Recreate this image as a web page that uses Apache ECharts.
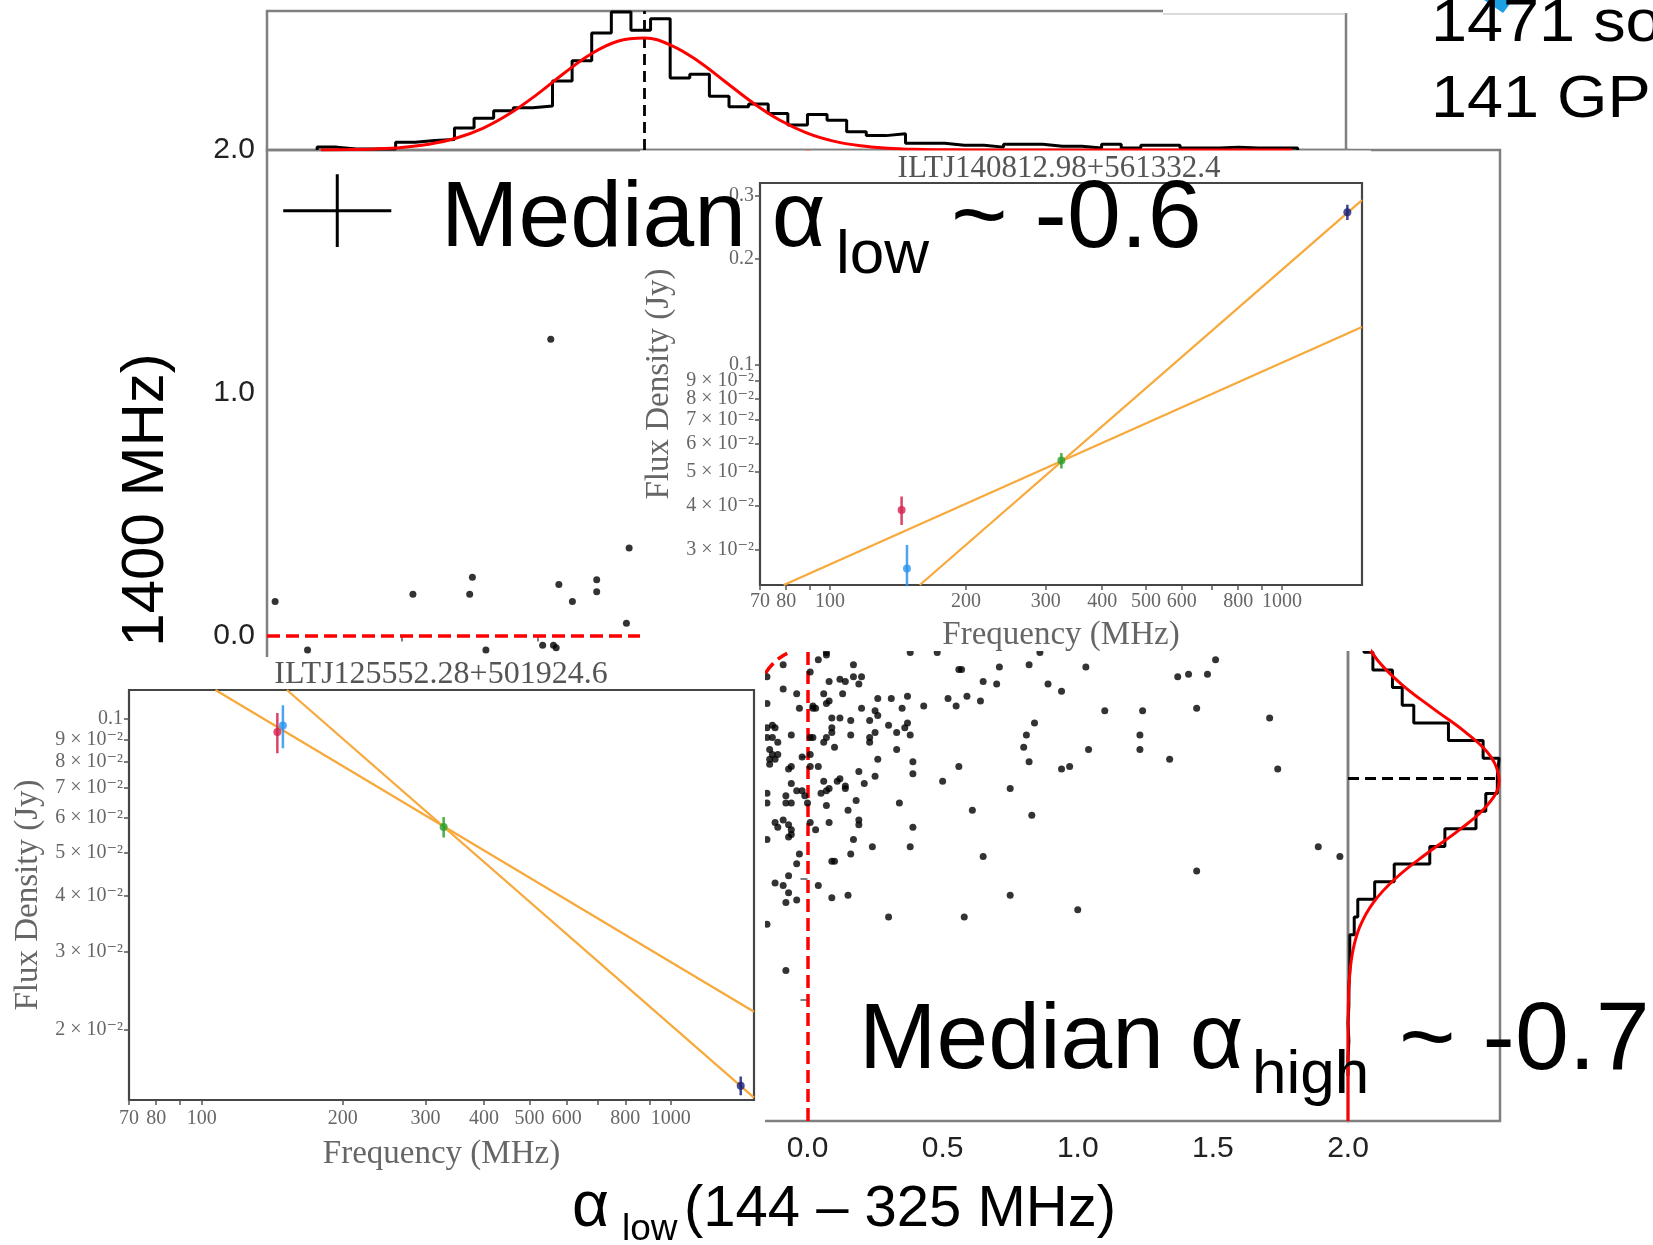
<!DOCTYPE html>
<html><head><meta charset="utf-8">
<script src="https://cdn.jsdelivr.net/npm/echarts@6/dist/echarts.min.js"></script>
<style>html,body{margin:0;padding:0;background:#fff}#c{width:1653px;height:1245px}</style>
</head><body><div id="c"></div>
<script>
// ---------------- data ----------------
const binStart = -1.814, binWidth = 0.0727;           // 50 bins in alpha
const lowHistCounts = [3,1,1,1,8,10,11,23,33,41,44,46,72,93,122,144,125,137,75,79,56,45,48,38,26,37,31,19,15,17,7,7,5,5,3,6,6,4,4,2,6,2,5,5,2,2,3,2,2,2];
const highHistCounts = [0,1,0,1,1,2,2,2,7,11,30,52,92,109,144,155,168,170,152,113,74,61,50,28,18,12,8,5,4,3,2,2,1,1,1,1,0,1,0,0,0,0,1,0,0,0,0,0,0,0];
const lowFitAlpha  = [-1.8,-1.7,-1.6,-1.5,-1.4,-1.3,-1.2,-1.1,-1.0,-0.9,-0.8,-0.7,-0.6,-0.5,-0.4,-0.3,-0.2,-0.1,0.0,0.1,0.2,0.3,0.4,0.5,0.6,0.8,1.0,1.4,1.8];
const lowFitCounts = [0.1,0.4,1.1,2.7,6.0,12.2,22.6,38.0,57.8,79.8,99.9,113.4,116.8,109.0,92.4,71.0,49.5,31.3,17.9,9.3,4.4,1.9,0.7,0.3,0.1,0,0,0,0];
const highFitAlpha  = [-2.0,-1.8,-1.6,-1.5,-1.4,-1.3,-1.2,-1.1,-1.0,-0.9,-0.8,-0.7,-0.6,-0.5,-0.4,-0.3,-0.2,-0.1,0.0,0.1,0.2,0.3,0.4,0.6];
const highFitCounts = [0,0,0.15,0.6,1.9,5.4,13.2,28.5,53.7,87.9,125.6,156.5,170,160.8,132.7,95.5,59.9,32.8,15.6,6.5,2.4,0.7,0.2,0];
const medianLow = -0.6, medianHigh = -0.59;
const medianErr = [-1.74, 1.75, 0.20, 0.15];   // x, y, xerr, yerr
const redCurveLow  = [-0.156,-0.119,-0.075];
const redCurveHigh = [-0.156,-0.106,-0.074];
const scatterPoints = [
[-0.95,1.22],[-0.66,0.36],[-1.97,0.14],[-1.46,0.17],[-1.25,0.17],[-1.24,0.24],[-0.92,0.21],[-0.87,0.14],[-0.78,0.18],[-0.78,0.23],[-0.67,0.05],[-1.85,-0.06],[-1.19,-0.06],[-0.98,-0.04],[-0.94,-0.04],[-0.93,-0.05],
[-0.09,-0.12],[0.04,-0.10],[0.07,-0.08],[0.17,-0.12],[0.01,-0.15],[-0.15,-0.17],
[0.12,-0.18],[0.14,-0.19],[0.17,-0.17],[0.20,-0.17],[0.08,-0.19],[0.19,-0.20],
[-0.09,-0.22],[-0.04,-0.24],[0.06,-0.24],[0.13,-0.24],[0.08,-0.27],[0.07,-0.28],
[0.02,-0.29],[0.02,-0.30],[0.03,-0.30],[-0.03,-0.30],[-0.15,-0.28],[0.20,-0.30],
[0.26,-0.26],[0.31,-0.26],[0.37,-0.25],[0.35,-0.30],[0.43,-0.29],[0.25,-0.31],[0.26,-0.33],
[0.09,-0.34],[0.12,-0.34],[0.16,-0.35],[0.23,-0.35],[0.30,-0.37],[0.33,-0.40],
[0.37,-0.36],[0.36,-0.38],[0.38,-0.41],[0.25,-0.40],[0.23,-0.42],[0.23,-0.44],
[0.16,-0.41],[0.09,-0.38],[0.09,-0.40],[0.07,-0.42],[0.06,-0.44],[0.10,-0.46],
[-0.06,-0.41],[0.01,-0.42],[0.02,-0.42],
[-0.13,-0.37],[-0.12,-0.38],[-0.15,-0.38],
[-0.15,-0.42],[-0.13,-0.42],[-0.11,-0.44],
[-0.14,-0.47],[-0.13,-0.49],[-0.11,-0.49],[-0.14,-0.51],[-0.12,-0.51],[-0.14,-0.53],
[-0.02,-0.50],[0.01,-0.49],[0.01,-0.54],[0.04,-0.54],[-0.06,-0.54],[-0.07,-0.55],
[0.26,-0.51],[0.33,-0.47],[0.39,-0.52],[0.39,-0.57],[0.19,-0.56],[0.25,-0.58],[0.21,-0.61],
[0.12,-0.59],[0.11,-0.60],[0.14,-0.62],[0.14,-0.63],
[0.06,-0.60],[0.08,-0.63],[0.07,-0.64],[0.05,-0.65],
[0.07,-0.70],[0.18,-0.68],[0.34,-0.69],
[-0.06,-0.61],[-0.04,-0.64],[-0.02,-0.64],[-0.01,-0.66],
[-0.08,-0.66],[-0.08,-0.69],[-0.06,-0.69],[-0.15,-0.65],[-0.15,-0.69],[0.00,-0.69],
[0.15,-0.72],[0.08,-0.77],[0.19,-0.76],[0.19,-0.78],[0.01,-0.77],[0.03,-0.80],
[-0.12,-0.77],[-0.11,-0.79],[-0.09,-0.76],[-0.07,-0.78],[-0.06,-0.80],[-0.06,-0.82],[-0.07,-0.83],
[-0.15,-0.84],[0.39,-0.79],[0.17,-0.84],[0.24,-0.87],[0.38,-0.87],
[-0.03,-0.90],[-0.04,-0.94],[0.16,-0.90],[0.09,-0.93],[0.10,-0.93],
[-0.07,-0.99],[-0.12,-1.02],[-0.09,-1.03],[-0.07,-1.06],[-0.08,-1.10],[-0.04,-1.09],
[0.04,-1.03],[0.09,-1.08],[0.15,-1.07],[0.30,-1.16],[0.58,-1.16],[-0.08,-1.38],[-0.15,-1.19],
[0.56,-0.14],[0.57,-0.14],[0.71,-0.13],[0.82,-0.12],[1.03,-0.13],
[0.65,-0.19],[0.70,-0.20],[0.89,-0.20],[0.94,-0.23],
[0.52,-0.26],[0.55,-0.29],[0.59,-0.25],[0.64,-0.27],
[0.84,-0.36],[0.81,-0.41],[0.80,-0.46],[1.04,-0.47],[0.82,-0.52],[0.56,-0.54],
[0.94,-0.55],[0.97,-0.54],[0.50,-0.60],[0.75,-0.63],[0.61,-0.72],[0.83,-0.74],
[0.65,-0.91],[0.75,-1.07],[1.00,-1.13],
[0.07,-0.07],[0.38,-0.07],[0.48,-0.07],[0.86,-0.07],
[1.51,-0.10],[1.37,-0.17],[1.41,-0.16],[1.48,-0.16],[1.10,-0.31],[1.24,-0.31],[1.44,-0.30],[1.23,-0.41],[1.23,-0.47],[1.34,-0.51],[1.71,-0.34],[1.74,-0.55],[1.89,-0.87],[1.97,-0.91],[1.44,-0.97]
];
// inset A (upper)
const srcA = 'ILTJ140812.98+561332.4';
const freqA = [144, 148, 325, 1395];
const fluxA = [0.0389, 0.0266, 0.0537, 0.270];
const errA  = [0.0036, 0.0044, 0.0027, 0.0135];
const fitA1 = [[79, 0.0239], [1503, 0.128]];
const fitA2 = [[158, 0.0239], [1503, 0.292]];
const freqRangeA = [70, 1503], fluxRangeA = [0.0239, 0.3264];
// inset B (lower)
const srcB = 'ILTJ125552.28+501924.6';
const freqB = [145, 149, 328, 1410];
const fluxB = [0.0935, 0.0967, 0.0572, 0.0150];
const errB  = [0.0097, 0.0107, 0.0030, 0.00073];
const fitB1 = [[107, 0.1162], [1505, 0.0220]];
const fitB2 = [[152, 0.1162], [1505, 0.0141]];
const freqRangeB = [70, 1505], fluxRangeB = [0.01393, 0.1162];
const pointColors = ['#d6204e', '#2b95f0', '#2ca02c', '#1b237a'];
const freqTickLabels = [70,80,100,200,300,400,500,600,800,1000];
const freqMinorTicks = [90,700,900];
const fluxTicksA = [0.03,0.04,0.05,0.06,0.07,0.08,0.09,0.1,0.2,0.3];
const fluxTicksB = [0.02,0.03,0.04,0.05,0.06,0.07,0.08,0.09,0.1];

// ---------------- helpers ----------------
const sans = '"Liberation Sans", Arial, Helvetica, sans-serif';
const serif = '"Liberation Serif", "DejaVu Serif", serif';
const L = Math.log10;

function stepOutline(counts, horizontal) {
  const e = i => binStart + i * binWidth;
  const pts = [[e(0), 0]];
  counts.forEach((c, i) => { pts.push([e(i), c]); pts.push([e(i + 1), c]); });
  pts.push([e(counts.length), 0]);
  return horizontal ? pts.map(p => [p[1], p[0]]) : pts;
}
const fmtFreq = v => String(Math.round(Math.pow(10, v)));
const fmtFlux = v => { const f = Math.pow(10, v); return f > 0.095 ? f.toFixed(1) : Math.round(f * 100) + ' × 10⁻²'; };

function insetX(gi, range, nameGap, margin) {
  return { type:'value', gridIndex:gi, min:L(range[0]), max:L(range[1]), z:21,
    axisLine:{show:false}, splitLine:{show:false},
    axisTick:{show:true, customValues:freqTickLabels.concat(freqMinorTicks).map(v=>L(v)), length:5, lineStyle:{color:'#555', width:1.5}},
    axisLabel:{show:true, customValues:freqTickLabels.map(v=>L(v)), formatter:fmtFreq, fontFamily:serif, fontSize:20, color:'#666', margin:margin},
    name:'Frequency (MHz)', nameLocation:'middle', nameGap:nameGap,
    nameTextStyle:{fontFamily:serif, fontSize:33, color:'#666'} };
}
function insetY(gi, range, ticks, nameGap) {
  return { type:'value', gridIndex:gi, min:L(range[0]), max:L(range[1]), z:21,
    axisLine:{show:false}, splitLine:{show:false},
    axisTick:{show:true, customValues:ticks.map(v=>L(v)), length:5, lineStyle:{color:'#555', width:1.5}},
    axisLabel:{show:true, customValues:ticks.map(v=>L(v)), formatter:fmtFlux, fontFamily:serif, fontSize:20, color:'#666', margin:6},
    name:'Flux Density (Jy)', nameLocation:'middle', nameRotate:90, nameGap:nameGap,
    nameTextStyle:{fontFamily:serif, fontSize:33, color:'#666'} };
}
function insetSeries(ax, freq, flux, err, fit1, fit2) {
  const out = [];
  [fit1, fit2].forEach(f => out.push({ type:'line', xAxisIndex:ax, yAxisIndex:ax, z:22, symbol:'none', clip:true,
    data:f.map(p => [L(p[0]), L(p[1])]), lineStyle:{color:'#f7a93c', width:2.3}, silent:true }));
  freq.forEach((fr, i) => {
    out.push({ type:'line', xAxisIndex:ax, yAxisIndex:ax, z:23, symbol:'none', clip:true,
      data:[[L(fr), L(flux[i] - err[i])], [L(fr), L(flux[i] + err[i])]], lineStyle:{color:pointColors[i], width:2.5, opacity:0.85} });
    out.push({ type:'scatter', xAxisIndex:ax, yAxisIndex:ax, z:24, symbol:'circle', symbolSize:8,
      data:[[L(fr), L(flux[i])]], itemStyle:{color:pointColors[i]} });
  });
  return out;
}
function txt(text, x, y, size, o) {
  o = o || {};
  return { type:'text', x:x, y:y, rotation:o.rot || 0, scaleX:o.sx || 1, z:o.z || 40,
    style:{ text:text, x:0, y:0, fontSize:size, fontFamily:o.font || sans, fill:o.color || '#000',
      textAlign:o.align || 'left', verticalAlign:'middle', textVerticalAlign:'middle' } };
}

// ---------------- option ----------------
const mainAxisLabel = { fontFamily:sans, fontSize:30, color:'#222' };
const option = {
  animation:false,
  backgroundColor:'#fff',
  grid:[
    { left:267, top:11,  width:1079, height:139, show:true, borderColor:'#808080', borderWidth:2.5, z:1 },
    { left:267, top:150, width:1081, height:971, show:true, borderColor:'#808080', borderWidth:2.5, z:1 },
    { left:1348, top:150, width:152, height:971, show:true, borderColor:'#808080', borderWidth:2.5, z:1 },
    { left:760, top:183, width:602, height:402, show:true, borderColor:'#454545', borderWidth:2.2, z:20 },
    { left:129, top:690, width:625, height:410, show:true, borderColor:'#454545', borderWidth:2.2, z:20 }
  ],
  xAxis:[
    { type:'value', gridIndex:0, min:-2, max:2, show:true, axisLine:{show:false}, axisTick:{show:false}, axisLabel:{show:false}, splitLine:{show:false} },
    { type:'value', gridIndex:1, min:-2, max:2, interval:0.5, z:3, axisLine:{show:false},
      axisTick:{show:true, length:6, lineStyle:{color:'#808080', width:2}},
      axisLabel:Object.assign({ margin:13, formatter:v => v.toFixed(1) }, mainAxisLabel), splitLine:{show:false} },
    { type:'value', gridIndex:2, min:0, max:171, axisLine:{show:false}, axisTick:{show:false}, axisLabel:{show:false}, splitLine:{show:false} },
    insetX(3, freqRangeA, 34, 7),
    insetX(4, freqRangeB, 38, 9)
  ],
  yAxis:[
    { type:'value', gridIndex:0, min:0, max:145, axisLine:{show:false}, axisTick:{show:false}, axisLabel:{show:false}, splitLine:{show:false} },
    { type:'value', gridIndex:1, min:-2, max:2, interval:0.5, z:3, axisLine:{show:false},
      axisTick:{show:true, length:7, lineStyle:{color:'#808080', width:2}},
      axisLabel:Object.assign({ margin:12, formatter:v => (Math.abs(v % 1) < 1e-9 ? v.toFixed(1) : '') }, mainAxisLabel), splitLine:{show:false} },
    { type:'value', gridIndex:2, min:-2, max:2, axisLine:{show:false}, axisTick:{show:false}, axisLabel:{show:false}, splitLine:{show:false} },
    insetY(3, fluxRangeA, fluxTicksA, 84),
    insetY(4, fluxRangeB, fluxTicksB, 84)
  ],
  series:[
    { type:'line', xAxisIndex:0, yAxisIndex:0, z:5, symbol:'none', data:stepOutline(lowHistCounts, false),
      lineStyle:{color:'#000', width:3},
      markLine:{ silent:true, symbol:['none','none'], label:{show:false}, lineStyle:{color:'#000', width:2.8, type:[11,6]}, data:[{xAxis:medianLow}] } },
    { type:'line', xAxisIndex:0, yAxisIndex:0, z:6, symbol:'none', smooth:0.4,
      data:lowFitAlpha.map((a, i) => [a, lowFitCounts[i]]), lineStyle:{color:'#ff0000', width:3} },
    { type:'line', xAxisIndex:2, yAxisIndex:2, z:5, symbol:'none', data:stepOutline(highHistCounts, true),
      lineStyle:{color:'#000', width:3},
      markLine:{ silent:true, symbol:['none','none'], label:{show:false}, lineStyle:{color:'#000', width:2.8, type:[11,6]}, data:[{yAxis:medianHigh}] } },
    { type:'line', xAxisIndex:2, yAxisIndex:2, z:6, symbol:'none', smooth:0.4,
      data:highFitAlpha.map((a, i) => [highFitCounts[i], a]), lineStyle:{color:'#ff0000', width:3} },
    { type:'scatter', xAxisIndex:1, yAxisIndex:1, z:5, symbol:'circle', symbolSize:7, data:scatterPoints,
      itemStyle:{color:'#000'},
      markLine:{ silent:true, symbol:['none','none'], label:{show:false}, lineStyle:{color:'#ff0000', width:3.5, type:[13,6]},
        data:[{xAxis:0}, {yAxis:0}] } },
    { type:'line', xAxisIndex:1, yAxisIndex:1, z:5, symbol:'none', smooth:true,
      data:redCurveLow.map((a, i) => [a, redCurveHigh[i]]), lineStyle:{color:'#ff0000', width:3.5, type:[13,6]} },
    { type:'line', xAxisIndex:1, yAxisIndex:1, z:7, symbol:'none',
      data:[[medianErr[0]-medianErr[2], medianErr[1]], [medianErr[0]+medianErr[2], medianErr[1]]], lineStyle:{color:'#000', width:3} },
    { type:'line', xAxisIndex:1, yAxisIndex:1, z:7, symbol:'none',
      data:[[medianErr[0], medianErr[1]-medianErr[3]], [medianErr[0], medianErr[1]+medianErr[3]]], lineStyle:{color:'#000', width:3} }
  ].concat(insetSeries(3, freqA, fluxA, errA, fitA1, fitA2), insetSeries(4, freqB, fluxB, errB, fitB1, fitB2)),
  graphic:{ elements:[
    { type:'rect', z:15, shape:{x:640, y:150.4, width:731, height:500.6}, style:{fill:'#fff'} },
    { type:'rect', z:15, shape:{x:0, y:657, width:765, height:523}, style:{fill:'#fff'} },
    { type:'rect', z:15, shape:{x:1163, y:0, width:210, height:13}, style:{fill:'#fff'} },
    { type:'line', z:15, shape:{x1:1163, y1:14, x2:1346, y2:14}, style:{stroke:'#b5b5b5', lineWidth:1.2} },
    { type:'polygon', z:38, shape:{points:[[1484,0],[1513,0],[1503,13]]}, style:{fill:'#1e9fe3'} },
    txt(srcA, 1059, 169, 31, {font:serif, color:'#555', align:'center', z:25}),
    txt(srcB, 441, 675, 32, {font:serif, color:'#555', align:'center', z:25}),
    txt('Median α', 441, 220, 93),
    txt('low', 836, 256, 62),
    txt('~ -0.6', 951, 220, 97),
    txt('Median α', 859, 1042, 93),
    txt('high', 1252, 1076, 62),
    txt('~ -0.7', 1399, 1042, 97),
    txt('1471 sources', 1431, 24, 60, {sx:1.08}),
    txt('141 GPS', 1431, 100, 60, {sx:1.08}),
    txt('1400 MHz)', 146, 500, 60, {rot:Math.PI/2, align:'center'}),
    txt('α', 572, 1208, 64),
    txt('low', 622, 1230, 37),
    txt('(144 – 325 MHz)', 684, 1210, 58)
  ]}
};
const chart = echarts.init(document.getElementById('c'), null, {renderer:'canvas', width:1653, height:1245});
chart.setOption(option);
</script></body></html>
